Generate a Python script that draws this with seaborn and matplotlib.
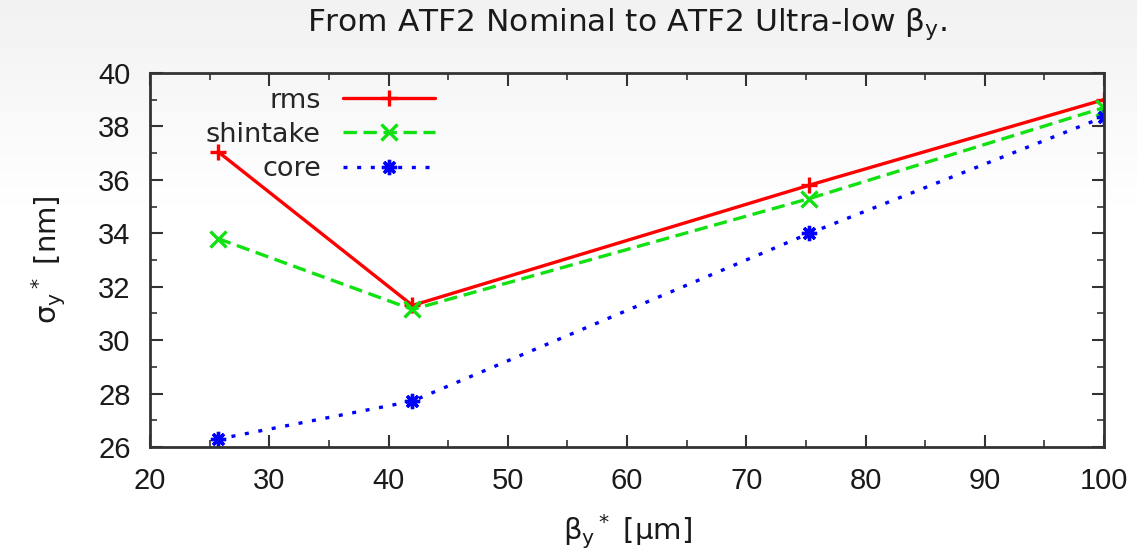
import numpy as np
import pandas as pd
import seaborn as sns
import matplotlib.pyplot as plt

# values
beta = [25.7, 42.0, 75.3, 100.0]
rms = [37.05, 31.3, 35.8, 39.0]
shintake = [33.8, 31.15, 35.3, 38.7]
core = [26.3, 27.72, 34.0, 38.35]
series = ["rms", "shintake", "core"]

df = pd.DataFrame({
    "beta": beta * 3,
    "sigma": rms + shintake + core,
    "series": np.repeat(series, len(beta)),
})

sns.set_theme(style="ticks")
plt.rcParams["font.family"] = ["Liberation Sans", "DejaVu Sans"]
plt.rcParams["mathtext.fontset"] = "custom"
plt.rcParams["mathtext.rm"] = "DejaVu Sans"
plt.rcParams["mathtext.it"] = "DejaVu Sans"

fig = plt.figure(figsize=(11.37, 5.52), dpi=100)

# slide-like gradient background
bg = fig.add_axes([0, 0, 1, 1], zorder=-10)
grad = np.ones((552, 2))
grad[:220, :] = np.linspace(0.945, 1.0, 220)[:, None]
bg.imshow(grad, cmap="gray", vmin=0, vmax=1, aspect="auto", extent=[0, 1, 0, 1])
bg.axis("off")

ax = fig.add_axes([0.132, 0.19, 0.839, 0.678])
ax.patch.set_alpha(0)

palette = {"rms": "#ff0000", "shintake": "#11e011", "core": "#0000ff"}
markers = {"rms": "+", "shintake": "x", "core": (8, 2, 0)}
dashes = {"rms": "", "shintake": (4, 2), "core": (1.2, 2.9)}

sns.lineplot(data=df, x="beta", y="sigma", hue="series", style="series",
             palette=palette, markers=markers, dashes=dashes,
             linewidth=2.4, markersize=11, ax=ax)
for ln in ax.lines:
    ln.set_markeredgecolor(ln.get_color())
    ln.set_markeredgewidth(2.4)

ax.set_xlim(20, 100)
ax.set_ylim(26, 40)
ax.set_xticks(range(20, 101, 10))
ax.set_xticks(range(25, 100, 10), minor=True)
ax.set_yticks(range(26, 41, 2))
ax.set_yticks(range(27, 40, 2), minor=True)
ax.tick_params(which="both", direction="in", top=True, right=True,
               labelsize=21, color="#333333", labelcolor="#1a1a1a")
ax.tick_params(which="major", length=9, width=1.5, pad=14)
ax.tick_params(which="minor", length=5, width=1.2)
for sp in ax.spines.values():
    sp.set_linewidth(2)
    sp.set_color("#333333")

lab = dict(family="DejaVu Sans", fontsize=21, color="#1a1a1a")
ax.set_xlabel(r"$\beta_y{}^*$ [μm]", labelpad=13, **lab)
ax.set_ylabel(r"$\sigma_y{}^*$ [nm]", labelpad=22, **lab)
ax.set_title(r"From ATF2 Nominal to ATF2 Ultra-low $\beta_y$.", family="DejaVu Sans",
             fontsize=22.5, color="#1a1a1a", pad=30)

leg = ax.legend(loc="upper left", bbox_to_anchor=(0.043, 1.0), frameon=False,
                markerfirst=False, prop={"family": "DejaVu Sans", "size": 19.5},
                handlelength=3.4, handletextpad=0.8, labelspacing=0.3,
                borderaxespad=0.15)
for h in leg.legend_handles:
    h.set_markeredgecolor(h.get_color())
    h.set_markeredgewidth(2.4)

fig.savefig("out.png", dpi=100)
